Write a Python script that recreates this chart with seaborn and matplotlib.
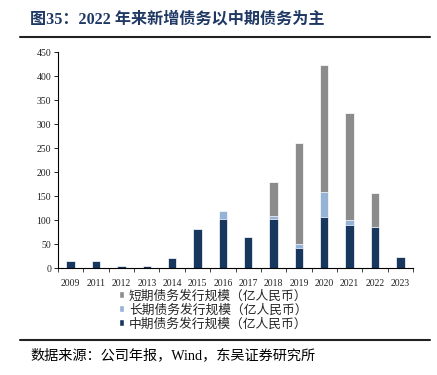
import numpy as np
import pandas as pd
import matplotlib
matplotlib.use("Agg")
from matplotlib import pyplot as plt
from matplotlib.lines import Line2D
from matplotlib.patches import Patch
import seaborn as sns

years = ["2009", "2011", "2012", "2013", "2014", "2015", "2016", "2017",
         "2018", "2019", "2020", "2021", "2022", "2023"]
mid_term = [14, 15, 4, 5, 20, 81, 103, 65, 103, 42, 107, 90, 85, 23]
long_term = [0, 0, 0, 0, 0, 0, 15, 0, 5, 9, 51, 10, 0, 0]
short_term = [0, 0, 0, 0, 0, 0, 0, 0, 71, 209, 265, 222, 71, 0]

lbl_short = "短期债务发行规模（亿人民币）"
lbl_long = "长期债务发行规模（亿人民币）"
lbl_mid = "中期债务发行规模（亿人民币）"

c_mid = "#17375E"
c_long = "#95B3D7"
c_short = "#8C8C8C"

sns.set_style("white")
plt.rcParams["font.family"] = ["Liberation Serif", "Noto Sans CJK SC"]

df = pd.DataFrame({"year": years, "mid": mid_term, "long": long_term, "short": short_term})
df["mid_long"] = df["mid"] + df["long"]
df["total"] = df["mid_long"] + df["short"]

fig = plt.figure(figsize=(4.37, 3.75), dpi=100)
ax = fig.add_axes([58 / 437, 1 - 268 / 375, 355 / 437, 216 / 375])

# stacked bars drawn back to front
sns.barplot(data=df, x="year", y="total", color=c_short, width=0.33, ax=ax,
            saturation=1, edgecolor="white", linewidth=0.5)
sns.barplot(data=df, x="year", y="mid_long", color=c_long, width=0.33, ax=ax,
            saturation=1, edgecolor="white", linewidth=0.5)
sns.barplot(data=df, x="year", y="mid", color=c_mid, width=0.33, ax=ax,
            saturation=1, edgecolor="white", linewidth=0.5)

ax.set_ylim(0, 450)
ax.set_yticks(np.arange(0, 451, 50))
ax.set_xlim(-0.5, len(years) - 0.5)
ax.set_xlabel("")
ax.set_ylabel("")
for s in ["top", "right"]:
    ax.spines[s].set_visible(False)
for s in ["left", "bottom"]:
    ax.spines[s].set_color("black")
    ax.spines[s].set_linewidth(0.8)

ax.tick_params(axis="y", which="major", length=3, width=0.6, labelsize=7,
               colors="black", pad=2, left=True)
ax.tick_params(axis="x", which="major", length=0, labelsize=7, pad=8)
ax.set_xticks(np.arange(-0.5, len(years), 1), minor=True)
ax.tick_params(axis="x", which="minor", length=3, width=0.6, bottom=True)
for t in ax.get_yticklabels() + ax.get_xticklabels():
    t.set_color("#222222")

handles = [Patch(facecolor=c_short, label=lbl_short),
           Patch(facecolor=c_long, label=lbl_long),
           Patch(facecolor=c_mid, label=lbl_mid)]
fig.legend(handles=handles, loc="upper center", bbox_to_anchor=(213 / 437, 1 - 290 / 375),
           frameon=False, fontsize=9.2, handlelength=0.45, handleheight=0.45,
           handletextpad=0.35, labelspacing=0.12, borderpad=0, borderaxespad=0)

fig.text(30 / 437, 1 - 20 / 375, "图35：2022 年来新增债务以中期债务为主", fontsize=11.6,
         fontweight="bold", color="#1F3864", va="center", ha="left")
fig.add_artist(Line2D([20 / 437, 430 / 437], [1 - 37 / 375, 1 - 37 / 375],
                      color="#222222", linewidth=1.5, transform=fig.transFigure))
fig.add_artist(Line2D([20 / 437, 430 / 437], [1 - 340 / 375, 1 - 340 / 375],
                      color="#222222", linewidth=1.5, transform=fig.transFigure))
fig.text(30 / 437, 1 - 355 / 375, "数据来源：公司年报，Wind，东吴证券研究所", fontsize=10.2,
         color="black", va="center", ha="left")

fig.savefig("out.png", dpi=100)
